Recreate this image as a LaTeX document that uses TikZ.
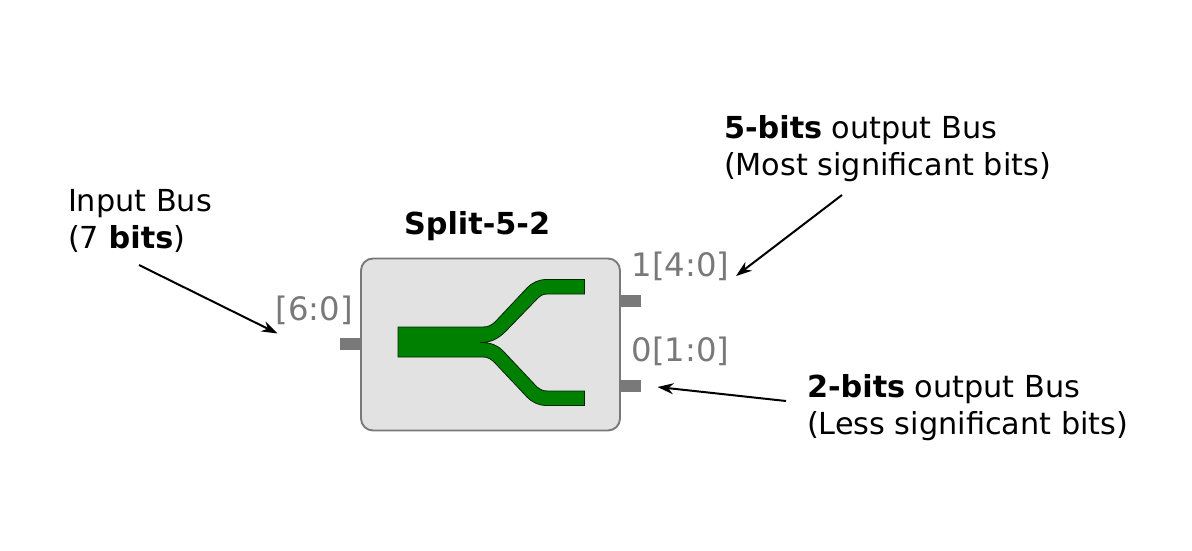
\documentclass[tikz,border=0pt]{standalone}
\usepackage{fontspec}
\setmainfont{DejaVu Sans}
\usetikzlibrary{arrows.meta}
\definecolor{pingray}{HTML}{797979}
\definecolor{boxfill}{HTML}{E2E2E2}
\definecolor{busgreen}{HTML}{008000}
\tikzset{
  x=1pt,y=-1pt,
  lbl/.style={inner sep=0pt,outer sep=0pt,anchor=base west,font=\fontsize{30.3}{37}\selectfont,text=black,align=left},
  pinlbl/.style={lbl,font=\fontsize{32.3}{37}\selectfont,text=pingray},
  pinbar/.style={fill=pingray,draw=none,inner sep=0pt,outer sep=0pt,minimum width=21pt,minimum height=11.5pt},
  callout/.style={-{Stealth[length=16pt,width=11pt]},line width=2pt,black,shorten >=0pt,shorten <=0pt},
}
\begin{document}
\begin{tikzpicture}
\useasboundingbox (0,0) rectangle (1192,551);
\node[draw=pingray,fill=boxfill,line width=1.9pt,rounded corners=12pt,minimum width=259pt,minimum height=172pt,inner sep=0pt] (box) at (490.5,344.5) {};
\node[pinbar] (pin6) at (350.5,343.8) {};
\node[pinbar] (pin1) at (630,300.8) {};
\node[pinbar] (pin0) at (630,385.8) {};
\draw[fill=busgreen,draw=black!70!busgreen,line width=0.8pt]
 (398,327) -- (483,327) .. controls (488,327) and (491,325.5) .. (495,322)
 -- (527,288) .. controls (533,282) and (539,279.5) .. (547,279.5) -- (584.5,279.5) -- (584.5,294)
 -- (548,294) .. controls (543,294) and (541,295) .. (537,299)
 -- (506,331) .. controls (498,339) and (491,342.5) .. (480,342.5)
 .. controls (491,342.5) and (498,345) .. (505,353)
 -- (537,387) .. controls (541,390) and (543,391) .. (548,391) -- (584.5,391) -- (584.5,405.5)
 -- (547,405.5) .. controls (539,405.5) and (533,403) .. (527,397)
 -- (495,363) .. controls (491,359) and (488,357) .. (483,357) -- (398,357) -- cycle;
\node[lbl] (title) at (404,234) {\textbf{Split-5-2}};
\node[pinlbl] (p6) at (275.5,320) {[6:0]};
\node[pinlbl] (p1) at (631.5,276) {1[4:0]};
\node[pinlbl] (p0) at (631.5,361) {0[1:0]};
\node[lbl] (in1) at (68,211) {Input Bus};
\node[lbl] (in2) at (68,248) {(7 \textbf{bits})};
\node[lbl] (o51) at (724,138) {\textbf{5-bits} output Bus};
\node[lbl] (o52) at (724,175.5) {(Most significant bits)};
\node[lbl] (o21) at (807,397) {\textbf{2-bits} output Bus};
\node[lbl] (o22) at (807,434.5) {(Less significant bits)};
\coordinate (a1s) at (139,265);
\coordinate (a1e) at (277.5,333.5);
\coordinate (a2s) at (842,195);
\coordinate (a2e) at (736,276);
\coordinate (a3s) at (786,401);
\coordinate (a3e) at (657.5,387);
\draw[callout] (a1s) -- (a1e);
\draw[callout] (a2s) -- (a2e);
\draw[callout] (a3s) -- (a3e);
\end{tikzpicture}
\end{document}
